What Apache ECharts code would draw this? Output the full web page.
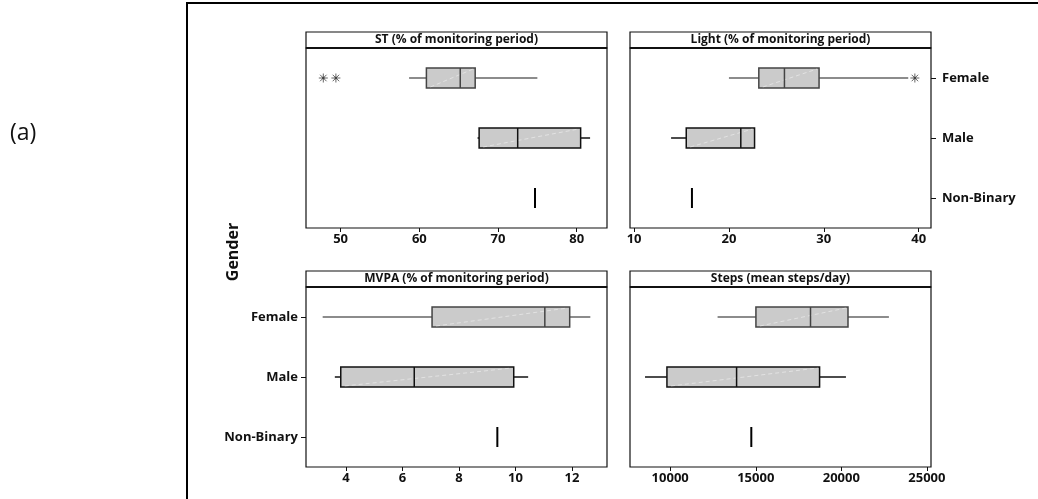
<!DOCTYPE html>
<html>
<head>
<meta charset="utf-8">
<script src="https://cdn.jsdelivr.net/npm/echarts@6/dist/echarts.min.js"></script>
<style>
  html, body { margin: 0; padding: 0; background: #fff; }
  #chart { width: 1038px; height: 499px; }
</style>
</head>
<body>
<div id="chart"></div>
<script>
// Gender groups, top to bottom
const genders = ['Female', 'Male', 'Non-Binary'];

// Five-number summaries per gender: [low whisker, Q1, median, Q3, high whisker]
const stStats = [
  [58.7, 60.9, 65.2, 67.1, 75.0],
  [67.4, 67.6, 72.5, 80.5, 81.7],
  [74.7, 74.7, 74.7, 74.7, 74.7]
];
const lightStats = [
  [20.0, 23.15, 25.85, 29.5, 38.9],
  [13.9, 15.5, 21.25, 22.7, 22.7],
  [16.1, 16.1, 16.1, 16.1, 16.1]
];
const mvpaStats = [
  [3.18, 7.05, 11.04, 11.92, 12.65],
  [3.61, 3.82, 6.42, 9.94, 10.45],
  [9.36, 9.36, 9.36, 9.36, 9.36]
];
const stepsStats = [
  [12770, 15010, 18200, 20390, 22780],
  [8530, 9810, 13880, 18730, 20270],
  [14740, 14740, 14740, 14740, 14740]
];

// Outliers: [gender index, value]
const stOutliers = [[0, 47.8], [0, 49.4]];
const lightOutliers = [[0, 39.6]];
const mvpaOutliers = [];
const stepsOutliers = [];

// Tick labels for each value axis
const stTicks = [50, 60, 70, 80];
const lightTicks = [10, 20, 30, 40];
const mvpaTicks = [4, 6, 8, 10, 12];
const stepsTicks = [10000, 15000, 20000, 25000];

// Panel titles
const panelTitles = [
  'ST (% of monitoring period)',
  'Light (% of monitoring period)',
  'MVPA (% of monitoring period)',
  'Steps (mean steps/day)'
];

const FONT = '"Open Sans", "Liberation Sans", sans-serif';

// panel layout: grid boxes and value-axis ranges
const panels = [
  { stats: stStats, out: stOutliers, ticks: stTicks, min: 45.6, max: 83.85,
    left: 306, top: 48, width: 301, height: 180, ylab: 'none' },
  { stats: lightStats, out: lightOutliers, ticks: lightTicks, min: 9.57, max: 41.3,
    left: 630, top: 48, width: 301, height: 180, ylab: 'right' },
  { stats: mvpaStats, out: mvpaOutliers, ticks: mvpaTicks, min: 2.59, max: 13.24,
    left: 306, top: 287, width: 301, height: 180, ylab: 'left' },
  { stats: stepsStats, out: stepsOutliers, ticks: stepsTicks, min: 7652, max: 25240,
    left: 630, top: 287, width: 301, height: 180, ylab: 'none' }
];

function boxItem(params, api) {
  const cat = api.value(0);
  const lo = api.value(1), q1 = api.value(2), med = api.value(3), q3 = api.value(4), hi = api.value(5);
  const y = api.coord([lo, cat])[1];
  const xLo = api.coord([lo, cat])[0];
  const xQ1 = api.coord([q1, cat])[0];
  const xMed = api.coord([med, cat])[0];
  const xQ3 = api.coord([q3, cat])[0];
  const xHi = api.coord([hi, cat])[0];
  const half = 10;
  const female = cat === 0;
  const lineCol = female ? '#666' : '#111';
  const boxCol = female ? '#444' : '#111';
  if (q1 === q3) {
    return {
      type: 'line',
      shape: { x1: xMed, y1: y - half, x2: xMed, y2: y + half },
      style: { stroke: '#000', lineWidth: 2 }
    };
  }
  const children = [];
  if (xQ1 > xLo) children.push({ type: 'line', shape: { x1: xLo, y1: y, x2: xQ1, y2: y },
    style: { stroke: lineCol, lineWidth: 1.5 } });
  if (xHi > xQ3) children.push({ type: 'line', shape: { x1: xQ3, y1: y, x2: xHi, y2: y },
    style: { stroke: lineCol, lineWidth: 1.5 } });
  children.push({ type: 'rect', shape: { x: xQ1, y: y - half, width: xQ3 - xQ1, height: half * 2 },
    style: { fill: '#cbcbcb', stroke: boxCol, lineWidth: 1.5 } });
  children.push({ type: 'line', shape: { x1: xQ1 + 4, y1: y + half - 1, x2: xQ3 - 2, y2: y - half + 1 },
    style: { stroke: 'rgba(255,255,255,0.55)', lineWidth: 0.8, lineDash: [4, 3] } });
  children.push({ type: 'line', shape: { x1: xMed, y1: y - half, x2: xMed, y2: y + half },
    style: { stroke: boxCol, lineWidth: 1.5 } });
  return { type: 'group', children };
}

function outlierItem(params, api) {
  const p = api.coord([api.value(1), api.value(0)]);
  const r = 4.5, d = r * 0.72;
  const st = { stroke: '#666', lineWidth: 1 };
  return {
    type: 'group',
    children: [
      { type: 'line', shape: { x1: p[0] - r, y1: p[1], x2: p[0] + r, y2: p[1] }, style: st },
      { type: 'line', shape: { x1: p[0], y1: p[1] - r, x2: p[0], y2: p[1] + r }, style: st },
      { type: 'line', shape: { x1: p[0] - d, y1: p[1] - d, x2: p[0] + d, y2: p[1] + d }, style: st },
      { type: 'line', shape: { x1: p[0] - d, y1: p[1] + d, x2: p[0] + d, y2: p[1] - d }, style: st },
      { type: 'circle', shape: { cx: p[0], cy: p[1], r: 1.3 }, style: { fill: '#444' } }
    ]
  };
}

const grid = [], xAxis = [], yAxis = [], series = [], graphic = [];

// outer frame
graphic.push({ type: 'rect', shape: { x: 187, y: 3, width: 1000, height: 600 },
  style: { fill: 'none', stroke: '#000', lineWidth: 2 }, z: 0 });
graphic.push({ type: 'text', x: 10, y: 122, style: { text: '(a)', font: '23px ' + FONT, fill: '#111' } });
graphic.push({ type: 'text', x: 233, y: 252, rotation: Math.PI / 2,
  style: { text: 'Gender', font: 'bold 16px ' + FONT, fill: '#111', align: 'center', verticalAlign: 'middle' } });

panels.forEach((p, i) => {
  grid.push({ left: p.left, top: p.top, width: p.width, height: p.height,
    show: true, borderColor: '#111', borderWidth: 1.2, backgroundColor: '#fff' });
  xAxis.push({
    type: 'value', gridIndex: i, min: p.min, max: p.max,
    axisLine: { show: false },
    splitLine: { show: false },
    axisTick: { show: true, length: 4, inside: false, customValues: p.ticks, lineStyle: { color: '#111' } },
    axisLabel: { customValues: p.ticks, margin: 5, color: '#111', fontSize: 13, fontWeight: 'bold',
      fontFamily: FONT, formatter: v => String(v) }
  });
  const yShow = p.ylab !== 'none';
  yAxis.push({
    type: 'category', gridIndex: i, data: genders, inverse: true,
    position: p.ylab === 'right' ? 'right' : 'left',
    axisLine: { show: false },
    axisTick: { show: yShow, length: 5, alignWithLabel: true, lineStyle: { color: '#111' } },
    axisLabel: { show: yShow, margin: p.ylab === 'right' ? 11 : 8, color: '#111', fontSize: 13,
      fontWeight: 'bold', fontFamily: FONT },
    splitLine: { show: false }
  });
  series.push({
    type: 'custom', xAxisIndex: i, yAxisIndex: i,
    data: p.stats.map((s, k) => [k].concat(s)),
    encode: { x: [1, 2, 3, 4, 5], y: 0 },
    renderItem: boxItem, silent: true
  });
  if (p.out.length) {
    series.push({
      type: 'custom', xAxisIndex: i, yAxisIndex: i,
      data: p.out,
      encode: { x: 1, y: 0 },
      renderItem: outlierItem, silent: true
    });
  }
  // title strip above each panel
  const stripH = 16;
  graphic.push({ type: 'rect', shape: { x: p.left, y: p.top - stripH, width: p.width, height: stripH },
    style: { fill: '#fff', stroke: '#111', lineWidth: 1.2 }, z: 10 });
  graphic.push({ type: 'line', shape: { x1: p.left, y1: p.top, x2: p.left + p.width, y2: p.top },
    style: { stroke: '#111', lineWidth: 2 }, z: 11 });
  graphic.push({ type: 'text', x: p.left + p.width / 2, y: p.top - stripH / 2, z: 12,
    style: { text: panelTitles[i], font: 'bold 12px ' + FONT, fill: '#111', align: 'center', verticalAlign: 'middle' } });
});

const chart = echarts.init(document.getElementById('chart'), null, { renderer: 'canvas' });
chart.setOption({
  animation: false,
  backgroundColor: '#fff',
  grid, xAxis, yAxis, series, graphic
});
</script>
</body>
</html>
